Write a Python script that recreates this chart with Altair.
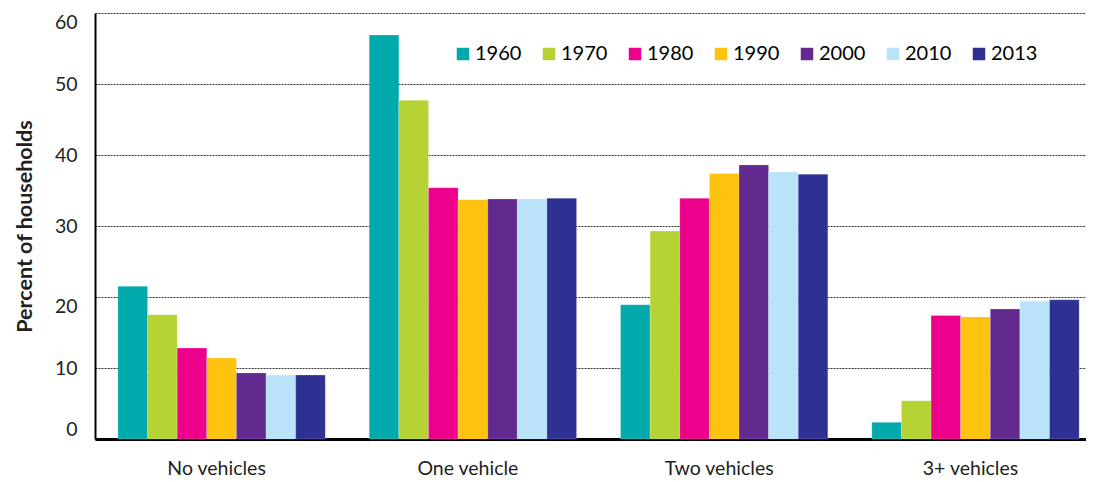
import altair as alt
import pandas as pd

categories = ["No vehicles", "One vehicle", "Two vehicles", "3+ vehicles"]
years = ["1960", "1970", "1980", "1990", "2000", "2010", "2013"]
colors = ["#00A9AC", "#B5D334", "#EC008C", "#FDC30E", "#62298E", "#B9E3F8", "#2E3192"]

no_vehicles = [21.5, 17.5, 12.8, 11.4, 9.3, 9.0, 9.0]
one_vehicle = [56.9, 47.7, 35.4, 33.7, 33.8, 33.8, 33.9]
two_vehicles = [18.9, 29.3, 33.9, 37.4, 38.6, 37.6, 37.3]
three_plus = [2.35, 5.4, 17.4, 17.2, 18.3, 19.4, 19.6]

series = [no_vehicles, one_vehicle, two_vehicles, three_plus]
rows = []
for cat, vals in zip(categories, series):
    for yr, v in zip(years, vals):
        rows.append({"category": cat, "year": yr, "value": v})
df = pd.DataFrame(rows)

txt = "#231F20"

chart = alt.Chart(df).mark_bar(stroke="white", strokeWidth=0.4, strokeOpacity=0.5).encode(
    x=alt.X(
        "category:N",
        sort=categories,
        scale=alt.Scale(paddingInner=0.175, paddingOuter=0.0593, align=0.77),
        axis=alt.Axis(
            title=None, labelAngle=0, ticks=False, grid=False,
            domainWidth=3, domainColor="black",
            labelFontSize=19.5, labelPadding=20, labelOffset=-5, labelColor=txt,
        ),
    ),
    xOffset=alt.XOffset("year:N", sort=years, scale=alt.Scale(paddingInner=0, paddingOuter=0)),
    y=alt.Y(
        "value:Q",
        scale=alt.Scale(domain=[0, 60]),
        axis=alt.Axis(
            values=[0, 10, 20, 30, 40, 50, 60],
            ticks=False, grid=True, gridDash=[2, 1], gridColor="#333333", gridWidth=1,
            domainWidth=2, domainColor="black",
            labelFontSize=19.5, labelPadding=18, labelColor=txt,
            labelBaseline={
                "condition": [
                    {"test": "datum.value == 0", "value": "bottom"},
                    {"test": "datum.value == 20 || datum.value == 60", "value": "top"},
                ],
                "value": "middle",
            },
            title="Percent of households", titleFontWeight="bold", titleFontSize=21.5,
            titleColor=txt, titlePadding=18,
        ),
    ),
    color=alt.Color(
        "year:N",
        sort=years,
        scale=alt.Scale(domain=years, range=colors),
        legend=alt.Legend(
            orient="none", legendX=358, legendY=31, direction="horizontal", columns=7,
            title=None, symbolType="square", symbolSize=156, symbolStrokeWidth=0,
            labelFontSize=20, labelColor="black", labelOffset=2, columnPadding=17,
        ),
    ),
).properties(
    width=991, height=426,
    autosize=alt.AutoSizeParams(type="none"),
    padding={"left": 87, "top": 5, "right": 0, "bottom": 43},
).configure(font="Lato").configure_view(stroke=None)

chart.save("out.html", embed_options={"renderer": "svg", "actions": False})
